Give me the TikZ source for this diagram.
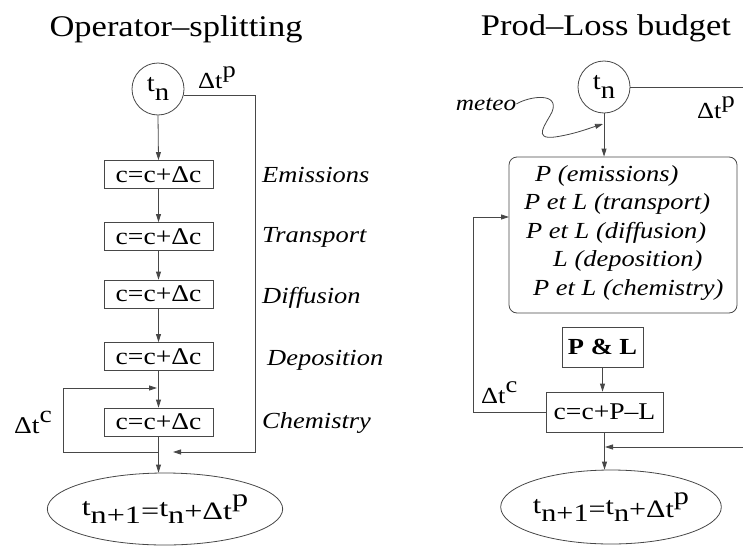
\documentclass[tikz,border=0pt]{standalone}
\usepackage{fontspec}
\setmainfont[FakeStretch=1.15]{Liberation Serif}
\usepackage{graphicx}
\usetikzlibrary{arrows.meta,shapes.geometric}
\newcommand{\dtsup}[1]{Δt\raisebox{0.45em}{#1}}
\begin{document}
\begin{tikzpicture}[x=1pt,y=-1pt,
  ln/.style={draw=black!72,line width=0.8pt},
  arr/.style={ln,-{Triangle[length=8pt,width=5pt]}},
  ttl/.style={anchor=base,inner sep=0pt,font=\fontsize{30}{32}\selectfont},
  cbox/.style={ln,rectangle,minimum width=109pt,minimum height=28pt,inner sep=0pt,font=\fontsize{24}{26}\selectfont},
  lab/.style={anchor=base west,inner sep=0pt,font=\fontsize{23}{26}\selectfont\itshape},
  dlab/.style={anchor=base west,inner sep=0pt,font=\fontsize{23}{26}\selectfont},
  circ/.style={ln,circle,minimum size=52pt,inner sep=0pt,font=\fontsize{25}{27}\selectfont},
  ell/.style={ln,ellipse,inner sep=0pt,font=\fontsize{25}{27}\selectfont},
  pltext/.style={anchor=base west,inner sep=0pt,font=\fontsize{23}{26}\selectfont\itshape}
]
\useasboundingbox (0,0) rectangle (743,546);

% ---------- left: operator splitting ----------
\node[ttl] (titleL) at (176,36) {Operator–splitting};
\node[circ] (tnL) at (158,89) {\raisebox{4pt}{t}\raisebox{-5pt}{n}};
\node[dlab] (dtpL) at (198,88) {\dtsup{p}};

\node[cbox] (bL1) at (158.5,174.5) {c=c+Δc};
\node[cbox] (bL2) at (158.5,236.5) {c=c+Δc};
\node[cbox] (bL3) at (158.5,294) {c=c+Δc};
\node[cbox] (bL4) at (158.5,356.5) {c=c+Δc};
\node[cbox] (bL5) at (158.5,422) {c=c+Δc};

\node[lab] (labL1) at (262,182) {Emissions};
\node[lab] (labL2) at (262,242) {Transport};
\node[lab] (labL3) at (262,303) {Diffusion};
\node[lab] (labL4) at (267,365) {Deposition};
\node[lab] (labL5) at (262,428) {Chemistry};

\node[dlab,font=\fontsize{24}{26}\selectfont] (dtcL) at (14,433) {\dtsup{c}};

\node[ell,minimum width=214pt,minimum height=72pt] (ellL) at (165,509)
  {\scalebox{1.12}[1]{\raisebox{4pt}{t}\raisebox{-4pt}{n+1}=\raisebox{3pt}{t}\raisebox{-4pt}{n}+Δt\raisebox{0.55em}{p}}};

\coordinate (jL) at (158.5,452);
\coordinate (kL) at (157,388);
\coordinate (pL) at (173,452);

\draw[arr] (tnL.south) -- (bL1.north);
\draw[arr] (bL1.south) -- (bL2.north);
\draw[arr] (bL2.south) -- (bL3.north);
\draw[arr] (bL3.south) -- (bL4.north);
\draw[arr] (bL4.south) -- (bL5.north);
\draw[arr] (bL5.south) -- (bL5.south |- ellL.north);
\draw[arr] (tnL.-15) -| (255,452) -- (pL);
\draw[arr] (jL) -| (63,388) -- (kL);

% ---------- right: prod-loss budget ----------
\node[ttl] (titleR) at (606,35) {Prod–Loss budget};
\node[circ] (tnR) at (604,87) {\raisebox{4pt}{t}\raisebox{-5pt}{n}};
\coordinate (edgeR) at (743,87);
\node[dlab] (dtpR) at (697,118) {\dtsup{p}};

\node[anchor=base,inner sep=0pt,font=\fontsize{22}{24}\selectfont\itshape] (meteo) at (486,110) {meteo};
\coordinate (mtip) at (603,124);

\node[ln,rounded corners=8pt,minimum width=228pt,minimum height=156pt,inner sep=0pt] (rbox) at (623,235) {};
\node[pltext] (pl1) at (535,181) {P (emissions)};
\node[pltext] (pl2) at (524,209) {P et L (transport)};
\node[pltext] (pl3) at (526,238) {P et L (diffusion)};
\node[pltext] (pl4) at (553,266) {L (deposition)};
\node[pltext] (pl5) at (533,295) {P et L (chemistry)};

\node[ln,minimum width=81pt,minimum height=40pt,inner sep=0pt,font=\fontsize{23}{26}\selectfont\bfseries] (plR) at (602.5,347) {P \& L};
\node[cbox,minimum width=117pt,minimum height=40pt] (cR) at (604.5,412) {c=c+P–L};
\node[dlab] (dtcR) at (481,403) {\dtsup{c}};

\node[ell,minimum width=212pt,minimum height=74pt] (ellR) at (611,507)
  {\scalebox{1.05}[1]{\raisebox{4pt}{t}\raisebox{-4pt}{n+1}=\raisebox{3pt}{t}\raisebox{-4pt}{n}+Δt\raisebox{0.55em}{p}}};

\coordinate (fbR) at (509,217);
\coordinate (edgeR2) at (743,447);
\coordinate (jR) at (605,447);

\draw[ln] (tnR.east) -- (edgeR);
\draw[arr] (tnR.south) -- (tnR.south |- rbox.north);
\draw[arr] (meteo.east) .. controls (530,96) and (560,92) .. (552,112)
  .. controls (546,124) and (532,140) .. (555,137)
  .. controls (575,134) and (590,128) .. (mtip);
\draw[arr] (plR.south) -- (plR.south |- cR.north);
\draw[arr] (cR.south) -- (cR.south |- ellR.north);
\draw[arr] (cR.west) -| (473,217) -- (fbR);
\draw[arr] (edgeR2) -- (jR);
\end{tikzpicture}
\end{document}
